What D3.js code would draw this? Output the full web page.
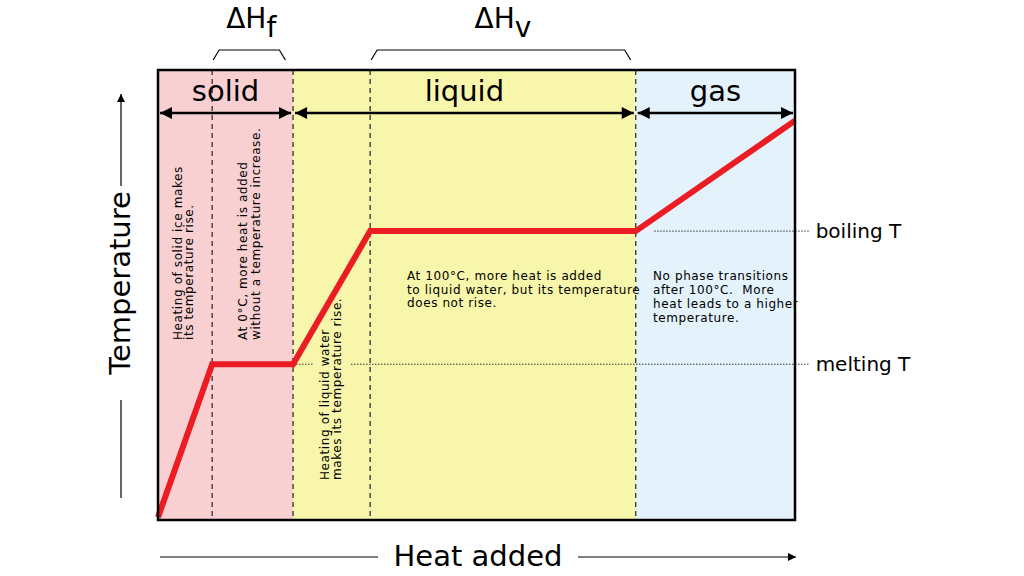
<!DOCTYPE html>
<html><head><meta charset="utf-8">
<script src="https://cdn.jsdelivr.net/npm/d3@7"></script>
<style>body{margin:0;background:#fff}svg{display:block}text{font-family:"Comic Sans MS","DejaVu Sans",sans-serif;fill:#000;white-space:pre}</style>
</head><body>
<script>
// Data
const heat = [0, 8.5, 21.2, 33.3, 75.0, 100];          // heat added (arb. units)
const temp = [-115, 0, 0, 100, 100, 183];              // temperature (°C, arb.)
const phases = ["solid", "liquid", "gas"];
const phaseStart = [0, 21.2, 75.0];
const phaseEnd = [21.2, 75.0, 100];
const phaseColors = ["#f9d0d2", "#f8f6aa", "#e3f2fb"];
const dividers = [8.5, 21.2, 33.3, 75.0];
const refTemps = [0, 100];
const refLabels = ["melting T", "boiling T"];

const W = 1024, H = 576;
const svg = d3.select("body").append("svg").attr("width", W).attr("height", H);
const x = d3.scaleLinear().domain([0, 100]).range([158, 795]);
const y = d3.scaleLinear().domain([-117, 221]).range([520, 70]);

const defs = svg.append("defs");
defs.append("marker").attr("id", "ah").attr("viewBox", "0 0 10 10").attr("refX", 10).attr("refY", 5)
  .attr("markerWidth", 10).attr("markerHeight", 8).attr("orient", "auto-start-reverse").attr("markerUnits","userSpaceOnUse")
  .append("path").attr("d", "M0,0 L10,5 L0,10 z").attr("fill", "#000");
defs.append("marker").attr("id", "ah2").attr("viewBox", "0 0 10 10").attr("refX", 10).attr("refY", 5)
  .attr("markerWidth", 14).attr("markerHeight", 12).attr("orient", "auto-start-reverse").attr("markerUnits","userSpaceOnUse")
  .append("path").attr("d", "M0,0 L10,5 L0,10 z").attr("fill", "#000");

// phase backgrounds
svg.selectAll("rect.phase").data(phases).join("rect").attr("class", "phase")
  .attr("x", (d, i) => x(phaseStart[i])).attr("y", y.range()[1])
  .attr("width", (d, i) => x(phaseEnd[i]) - x(phaseStart[i]))
  .attr("height", y.range()[0] - y.range()[1])
  .attr("fill", (d, i) => phaseColors[i]);

// dashed dividers
svg.selectAll("line.div").data(dividers).join("line")
  .attr("x1", d => x(d)).attr("x2", d => x(d))
  .attr("y1", y.range()[1]).attr("y2", y.range()[0])
  .attr("stroke", "#222").attr("stroke-width", 1.2).attr("stroke-dasharray", "5,4");

// reference dotted lines
const refSegs = [
  {t: 0, a: 21.2, b: 24.4}, {t: 0, a: 30.3, b: 102.3},
  {t: 100, a: 77.9, b: 102.3}
];
svg.selectAll("line.ref").data(refSegs).join("line")
  .attr("x1", d => x(d.a)).attr("x2", d => x(d.b))
  .attr("y1", d => y(d.t)).attr("y2", d => y(d.t))
  .attr("stroke", "#333").attr("stroke-width", 1).attr("stroke-dasharray", "1.5,1.5");
svg.selectAll("text.ref").data(refTemps).join("text")
  .attr("x", x(102.3) + 6).attr("y", d => y(d)).attr("dy", "0.35em")
  .attr("font-size", 20).text((d, i) => refLabels[i]);

// phase labels + double arrows
svg.selectAll("text.phase").data(phases).join("text")
  .attr("x", (d, i) => (x(phaseStart[i]) + x(phaseEnd[i])) / 2)
  .attr("y", 101).attr("text-anchor", "middle").attr("font-size", 29).text(d => d);
svg.selectAll("line.parr").data(phases).join("line")
  .attr("x1", (d, i) => x(phaseStart[i]) + 2).attr("x2", (d, i) => x(phaseEnd[i]) - 2)
  .attr("y1", 113).attr("y2", 113).attr("stroke", "#000").attr("stroke-width", 2.5)
  .attr("marker-start", "url(#ah2)").attr("marker-end", "url(#ah2)");

// heating curve
svg.append("path").datum(heat.map((h, i) => [h, temp[i]]))
  .attr("d", d3.line().x(d => x(d[0])).y(d => y(d[1])))
  .attr("fill", "none").attr("stroke", "#ec1c24").attr("stroke-width", 6).attr("stroke-linejoin", "miter");

// frame
svg.append("rect").attr("x", x(0)).attr("y", y.range()[1]).attr("width", x(100) - x(0))
  .attr("height", y.range()[0] - y.range()[1]).attr("fill", "none").attr("stroke", "#000").attr("stroke-width", 2.5);

// ΔH brackets
const brackets = [{a: 8.5, b: 20, sub: "f"}, {a: 33.3, b: 74.2, sub: "v"}];
brackets.forEach(bk => {
  const x1 = x(bk.a) + 1, x2 = x(bk.b);
  svg.append("path").attr("d", `M${x1},60 L${x1 + 6},50 L${x2 - 6},50 L${x2},60`)
    .attr("fill", "none").attr("stroke", "#000").attr("stroke-width", 1.2);
  const t = svg.append("text").attr("x", (x1 + x2) / 2 + 2).attr("y", 28).attr("text-anchor", "middle").attr("font-size", 28);
  t.append("tspan").text("ΔH");
  t.append("tspan").attr("dy", 9).attr("font-size", 28).text(bk.sub);
});

// annotations rotated
function rotText(px, py, lines, fs, lh) {
  const g = svg.append("g").attr("transform", `translate(${px},${py}) rotate(-90)`);
  lines.forEach((l, i) => g.append("text").attr("x", 0).attr("y", i * lh).attr("font-size", fs)
    .attr("letter-spacing", 0.6).text(l));
}
rotText(182, 340, ["Heating of solid ice makes", "its temperature rise."], 12, 11);
rotText(247, 340, ["At 0°C, more heat is added", "without a temperature increase."], 12, 13);
rotText(329, 480, ["Heating of liquid water", "makes its temperature rise."], 12, 12);

function blockText(px, py, lines, fs, lh) {
  lines.forEach((l, i) => svg.append("text").attr("x", px).attr("y", py + i * lh).attr("font-size", fs)
    .attr("letter-spacing", 0.6).text(l));
}
blockText(407, 280, ["At 100°C, more heat is added", "to liquid water, but its temperature", "does not rise."], 12, 13.5);
blockText(653, 280, ["No phase transitions", "after 100°C.  More", "heat leads to a higher", "temperature."], 12, 14);

// axes titles with arrows
svg.append("line").attr("x1", 121).attr("x2", 121).attr("y1", 186).attr("y2", 94)
  .attr("stroke", "#000").attr("stroke-width", 1.2).attr("marker-end", "url(#ah)");
svg.append("line").attr("x1", 121).attr("x2", 121).attr("y1", 400).attr("y2", 498)
  .attr("stroke", "#000").attr("stroke-width", 1.2);
svg.append("text").attr("transform", "translate(130,283) rotate(-90)").attr("text-anchor", "middle")
  .attr("font-size", 29).text("Temperature");

svg.append("line").attr("x1", 160).attr("x2", 378).attr("y1", 557).attr("y2", 557)
  .attr("stroke", "#000").attr("stroke-width", 1.2);
svg.append("line").attr("x1", 578).attr("x2", 796).attr("y1", 557).attr("y2", 557)
  .attr("stroke", "#000").attr("stroke-width", 1.2).attr("marker-end", "url(#ah)");
svg.append("text").attr("x", 478).attr("y", 566).attr("text-anchor", "middle")
  .attr("font-size", 29).text("Heat added");
</script>
</body></html>
